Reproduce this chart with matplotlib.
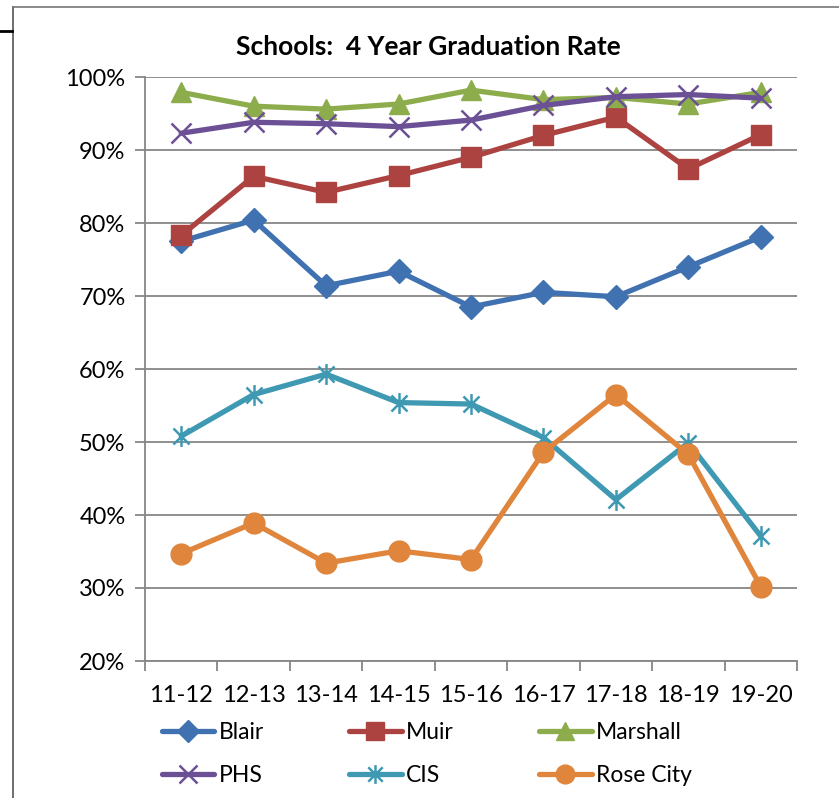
import numpy as np
import matplotlib
matplotlib.use("Agg")
import matplotlib.pyplot as plt
from matplotlib.path import Path
from matplotlib.lines import Line2D

plt.rcParams['font.family'] = ['Lato', 'DejaVu Sans']

years = ['11-12', '12-13', '13-14', '14-15', '15-16', '16-17', '17-18', '18-19', '19-20']
blair = [77.5, 80.4, 71.4, 73.4, 68.5, 70.5, 69.9, 74.0, 78.1]
muir = [78.3, 86.4, 84.2, 86.5, 89.0, 92.0, 94.5, 87.4, 92.1]
marshall = [97.9, 96.0, 95.6, 96.3, 98.2, 96.9, 97.2, 96.3, 97.9]
phs = [92.3, 93.8, 93.6, 93.2, 94.1, 96.1, 97.3, 97.6, 97.1]
cis = [50.8, 56.5, 59.3, 55.4, 55.2, 50.6, 42.1, 49.9, 37.1]
rose = [34.7, 38.9, 33.4, 35.1, 33.9, 48.6, 56.5, 48.3, 30.2]

# asterisk marker: x plus vertical bar
star = Path([(-1, -1), (1, 1), (-1, 1), (1, -1), (0, -1.3), (0, 1.3)],
            [Path.MOVETO, Path.LINETO, Path.MOVETO, Path.LINETO, Path.MOVETO, Path.LINETO])

series = [
    ('Blair', blair, '#4071B0', 'D', 12),
    ('Muir', muir, '#AD4340', 's', 14),
    ('Marshall', marshall, '#8DAD4C', '^', 15),
    ('PHS', phs, '#6C5096', 'x', 14),
    ('CIS', cis, '#3F99B2', star, 15),
    ('Rose City', rose, '#E0853C', 'o', 15),
]

fig = plt.figure(figsize=(8.39, 7.98), dpi=100)
ax = fig.add_axes([145/839, 1-661/798, (797-145)/839, (661-77)/798])

x = np.arange(len(years))
handles = {}
for name, vals, col, mk, ms in series:
    thin = (mk == 'x') or (mk is star)
    h, = ax.plot(x, np.array(vals) / 100, color=col, lw=3.8, marker=mk, ms=ms,
                 mfc=col, mec=col, mew=1.8 if thin else 1,
                 solid_capstyle='round', solid_joinstyle='round',
                 label=name, zorder=3)
    handles[name] = h

ax.set_xlim(-0.5, len(years) - 0.5)
ax.set_ylim(0.2, 1.0)
yt = np.arange(0.2, 1.01, 0.1)
ax.set_yticks(yt)
ax.set_yticklabels([f'{int(round(v*100))}%' for v in yt])
ax.set_xticks(x)
ax.set_xticklabels(years)
ax.set_xticks(np.arange(-0.5, len(years)), minor=True)
ax.tick_params(axis='x', which='major', length=0, pad=17, labelsize=17)
ax.tick_params(axis='x', which='minor', length=7, color='#868686', width=1.3, direction='out')
ax.tick_params(axis='y', length=7, color='#868686', width=1.3, pad=7, labelsize=17)
ax.grid(axis='y', color='#868686', lw=1.3, zorder=0)
for s in ['top', 'right']:
    ax.spines[s].set_visible(False)
for s in ['left', 'bottom']:
    ax.spines[s].set_color('#868686')
    ax.spines[s].set_linewidth(1.3)

fig.text(428/839, 1-47/798, 'Schools:  4 Year Graduation Rate', ha='center', va='center',
         fontsize=19, fontweight='bold')

order = ['Blair', 'PHS', 'Muir', 'CIS', 'Marshall', 'Rose City']
fig.legend([handles[n] for n in order], order, ncol=3, loc='center left',
           bbox_to_anchor=(141/839, 1-754/798), frameon=False, fontsize=16.5,
           handlelength=2.3, handletextpad=0.2, columnspacing=3.7, labelspacing=0.95,
           markerscale=0.9, borderpad=0.4)

# chart area border fragments
fig.add_artist(Line2D([13/839, 13/839], [0, 1-7/798], color='#555555', lw=1.2))
fig.add_artist(Line2D([13/839, 1], [1-7/798, 1-7/798], color='#777777', lw=1.2))
fig.add_artist(Line2D([0, 12/839], [1-31/798, 1-31/798], color='black', lw=2))

fig.savefig('out.png', dpi=100)
